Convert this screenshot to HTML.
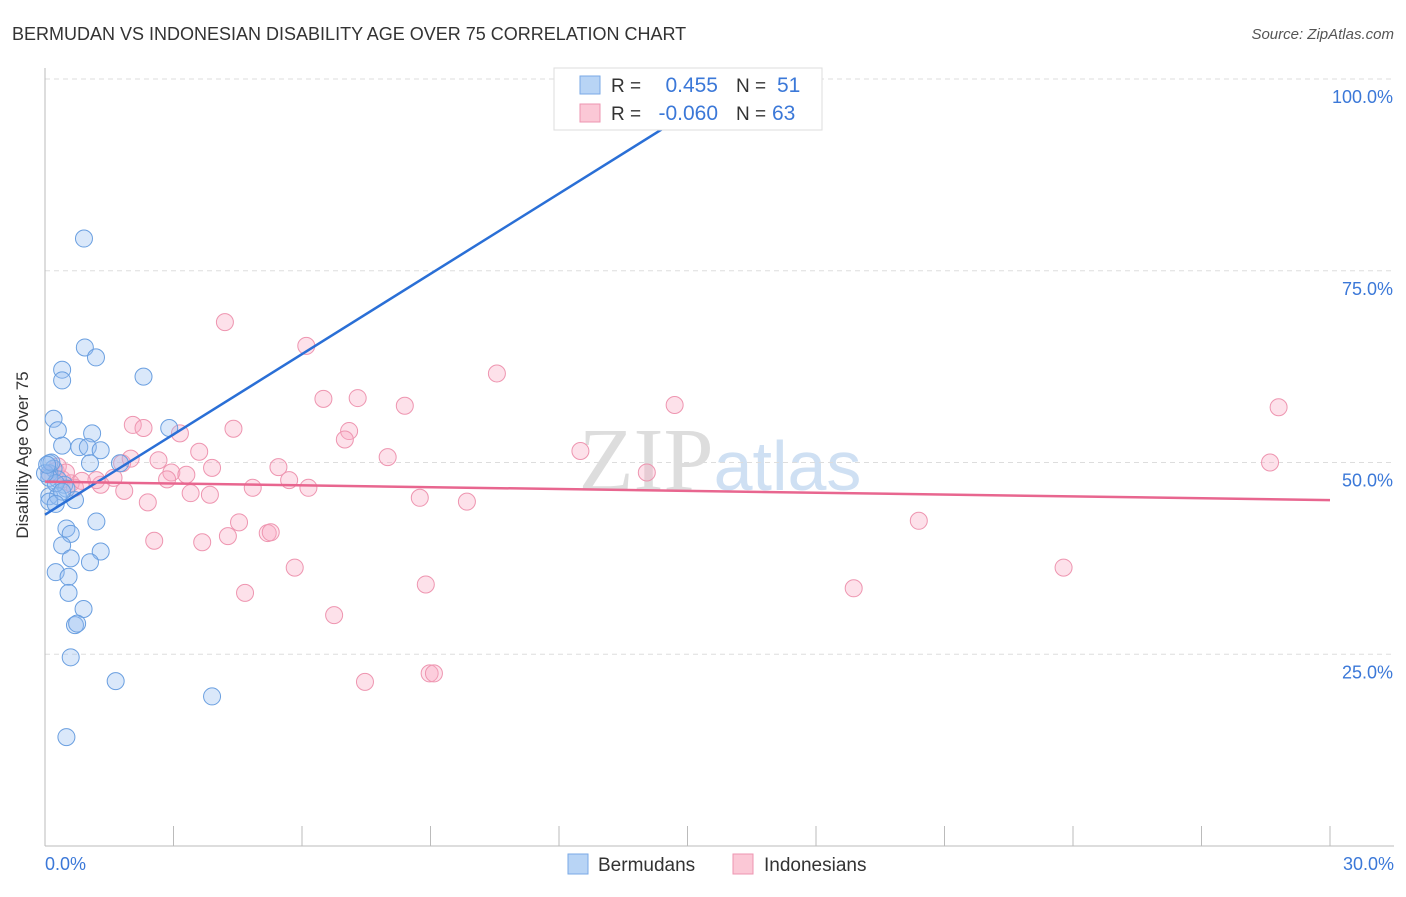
<!DOCTYPE html>
<html><head><meta charset="utf-8"><style>
body{margin:0;background:#fff;font-family:"Liberation Sans",sans-serif;}
</style></head><body>
<svg width="1406" height="892" xmlns="http://www.w3.org/2000/svg">
<text x="12" y="40" font-size="18" fill="#333">BERMUDAN VS INDONESIAN DISABILITY AGE OVER 75 CORRELATION CHART</text>
<text x="1394" y="39" font-size="15" fill="#555" text-anchor="end" font-style="italic">Source: ZipAtlas.com</text>
<text x="720" y="490" font-size="90" fill="#ddd" text-anchor="middle" font-family="Liberation Serif,serif">ZIP<tspan fill="#cfe0f3" font-family="Liberation Sans,sans-serif" font-size="70">atlas</tspan></text>
<g id="grid"></g>
<line x1="45" y1="68" x2="45" y2="846" stroke="#bbb"/>
<line x1="45" y1="846" x2="1394" y2="846" stroke="#bbb"/>
<text x="28" y="455" font-size="17" fill="#333" text-anchor="middle" transform="rotate(-90 28 455)">Disability Age Over 75</text>
<text x="45" y="870" font-size="18" fill="#3b78d8">0.0%</text>
<text x="1394" y="870" font-size="18" fill="#3b78d8" text-anchor="end">30.0%</text>
<g id="pts"></g>
<g id="lines"></g>
<g>
<rect x="554" y="68" width="268" height="62" fill="#fff" stroke="#ddd"/>
<rect x="580" y="76" width="20" height="18" fill="#b8d4f5" stroke="#7aa9e6"/>
<rect x="580" y="104" width="20" height="18" fill="#fbc8d6" stroke="#ee95b0"/>
<text x="611" y="92" font-size="19" fill="#333">R =</text><text x="718" y="92" font-size="21" fill="#3b78d8" text-anchor="end">0.455</text>
<text x="736" y="92" font-size="19" fill="#333">N =</text><text x="777" y="92" font-size="21" fill="#3b78d8">51</text>
<text x="611" y="120" font-size="19" fill="#333">R =</text><text x="718" y="120" font-size="21" fill="#3b78d8" text-anchor="end">-0.060</text>
<text x="736" y="120" font-size="19" fill="#333">N =</text><text x="772" y="120" font-size="21" fill="#3b78d8">63</text>
</g>
<g>
<rect x="568" y="854" width="20" height="20" fill="#b8d4f5" stroke="#7aa9e6"/>
<text x="598" y="871" font-size="19" fill="#333">Bermudans</text>
<rect x="733" y="854" width="20" height="20" fill="#fbc8d6" stroke="#ee95b0"/>
<text x="764" y="871" font-size="19" fill="#333">Indonesians</text>
</g>
</svg>
<script>
const bermX=[0.91,0.93,1.19,0.4,0.4,2.3,0.2,0.3,1.1,2.9,0.4,0.8,1.0,1.3,1.05,1.75,0.1,0.2,0.1,0.3,0.45,0.5,0.1,0.3,0.7,0.1,1.2,0.5,0.6,1.3,0.4,1.05,0.6,0.25,0.55,0.55,0.9,0.7,0.75,0.6,1.65,3.9,0.5,12.95,0.1,0.25,0.0,0.4,0.15,0.05,0.25];
const bermY=[79.2,65.0,63.7,62.1,60.7,61.2,55.7,54.2,53.8,54.5,52.2,52.0,52.0,51.6,49.9,49.9,49.9,49.2,48.6,47.8,47.1,46.6,45.6,45.6,45.1,44.9,42.3,41.4,40.7,38.4,39.2,37.0,37.5,35.7,35.1,33.0,30.9,28.8,29.0,24.6,21.5,19.5,14.2,100.0,48.0,47.3,48.6,46.2,50.0,49.7,44.6];
const indoX=[4.2,6.1,10.55,6.5,7.3,8.4,14.7,28.8,2.05,2.3,4.4,3.15,7.1,7.0,3.6,8.0,12.5,28.6,2.65,1.8,2.0,3.9,5.45,2.95,3.3,14.05,5.7,2.85,1.6,1.3,1.2,6.15,4.85,1.85,3.4,3.85,8.75,9.85,2.4,4.53,20.4,4.27,5.2,5.27,2.55,3.67,5.83,23.78,8.89,18.88,4.67,6.75,7.47,8.98,9.08,0.25,0.4,0.6,0.12,0.7,0.3,0.49,0.86];
const indoY=[68.3,65.2,61.6,58.3,58.4,57.4,57.5,57.2,54.9,54.5,54.4,53.8,54.1,53.0,51.4,50.7,51.5,50.0,50.3,49.9,50.5,49.3,49.4,48.7,48.4,48.7,47.7,47.8,48.0,47.1,47.7,46.7,46.7,46.3,46.0,45.8,45.4,44.9,44.8,42.2,42.4,40.4,40.8,40.9,39.8,39.6,36.3,36.3,34.1,33.6,33.0,30.1,21.4,22.5,22.5,48.9,47.8,47.3,48.4,46.7,49.5,48.7,47.6];
const yTicks=[25,50,75,100];
const blueLine=[[0,43.2],[14.82,94.9]];
const pinkLine=[[0,47.5],[30,45.1]];
const X=v=>45+v/30*1285, Y=v=>846-v/100*767;
const NS="http://www.w3.org/2000/svg";
function mk(t,a,p){const e=document.createElementNS(NS,t);for(const k in a)e.setAttribute(k,a[k]);p.appendChild(e);return e;}
const grid=document.getElementById('grid');
yTicks.forEach(t=>{
 const l=mk('line',{x1:45,x2:1394,y1:Y(t),y2:Y(t),stroke:'#ddd','stroke-dasharray':'5,4'},grid);
 
 
 const tx=mk('text',{x:1393,y:Y(t)+24,'font-size':18,fill:'#3b78d8','text-anchor':'end'},grid);
 tx.textContent=t.toFixed(1)+'%';
 
 
});
for(let i=1;i<=10;i++){
 const l=mk('line',{x1:45+i*128.5,x2:45+i*128.5,y1:826,y2:846,stroke:'#bbb'},grid);
 
 
}
const pts=document.getElementById('pts');
indoX.forEach((x,i)=>{
 const c=mk('circle',{cx:X(x),cy:Y(indoY[i]),r:8.5,fill:'rgba(248,170,195,0.35)',stroke:'#ee95b0','stroke-width':1},pts);
 
 
});
bermX.forEach((x,i)=>{
 const c=mk('circle',{cx:X(x),cy:Y(bermY[i]),r:8.5,fill:'rgba(150,190,240,0.35)',stroke:'#6a9fe0','stroke-width':1},pts);
 
 
});
const lines=document.getElementById('lines');
const bl=mk('line',{x1:X(blueLine[0][0]),y1:Y(blueLine[0][1]),x2:X(blueLine[1][0]),y2:Y(blueLine[1][1]),stroke:'#2a6fd6','stroke-width':2.5},lines);


const pl=mk('line',{x1:X(pinkLine[0][0]),y1:Y(pinkLine[0][1]),x2:X(pinkLine[1][0]),y2:Y(pinkLine[1][1]),stroke:'#e8668f','stroke-width':2.5},lines);


</script>
</body></html>
